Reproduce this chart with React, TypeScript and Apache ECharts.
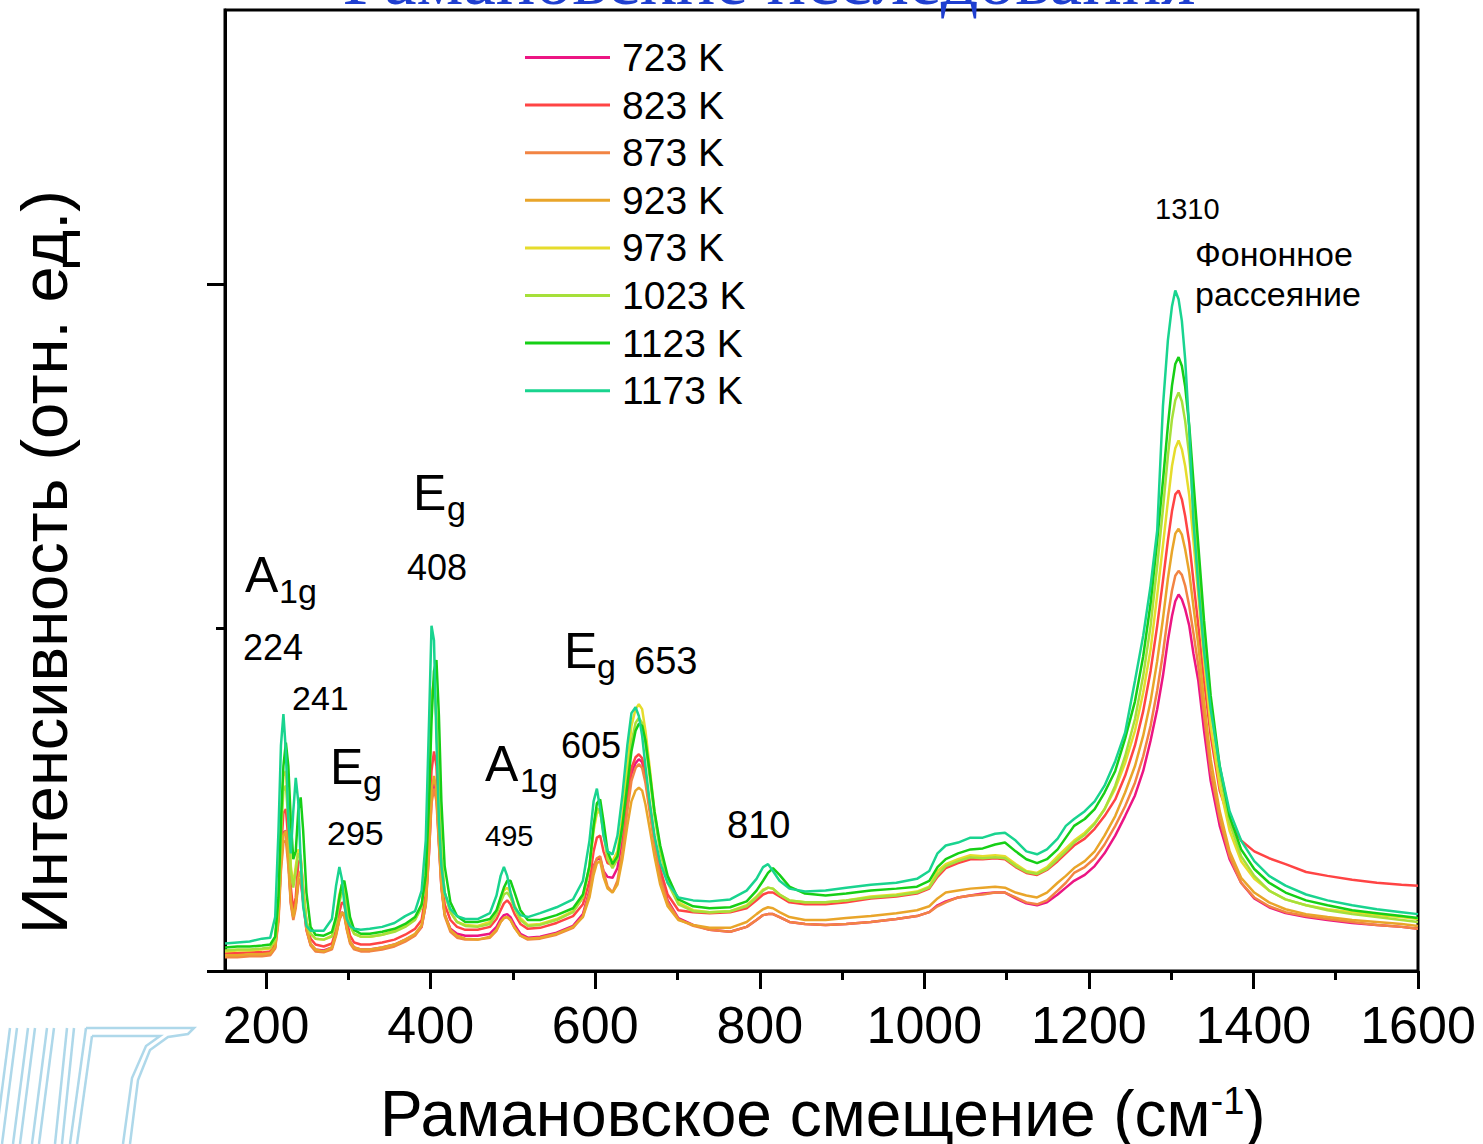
import React, { useEffect, useRef } from "react";
import * as echarts from "echarts";

// Raman shift grid (cm^-1), shared by all spectra
const shift = [
  150, 165, 180, 195, 205, 211, 215, 218, 221, 224, 227, 230, 233, 236, 239, 242, 245, 249, 254, 260, 270, 280, 285, 289, 292, 295, 298, 302, 307,
  315, 326, 341, 356, 369, 381, 389, 394, 398, 401, 404, 407, 410, 413, 417,
  424, 432, 442, 457, 472, 480, 485, 489, 493, 497, 502, 509, 518, 533, 553, 573,
  585, 593, 598, 602, 606, 610, 615, 621, 627, 633, 639, 644, 649, 653, 657, 661, 666, 672, 679, 688, 701, 719, 739, 764,
  784, 796, 804, 810, 816, 824, 836, 855, 880, 905, 935, 966, 991, 1006, 1016, 1026, 1041, 1056, 1071, 1086, 1098, 1111, 1124, 1137, 1149, 1162, 1172,
  1182, 1195, 1207, 1219, 1232, 1244, 1256, 1266, 1275, 1283, 1290, 1296, 1301, 1305, 1309, 1313, 1317, 1322, 1327, 1333, 1340, 1348, 1359, 1371, 1385, 1401, 1419, 1439, 1464, 1490, 1520, 1550, 1580, 1600,
];

// Intensity, arbitrary units
const i723 = [
  15, 15, 16, 16, 17, 24, 55, 112, 141, 143, 114, 70, 55, 68, 90, 93, 70, 42, 27, 22, 21, 24, 38, 53, 60, 58, 44, 30, 24,
  22, 22, 24, 27, 32, 37, 45, 68, 122, 175, 192, 179, 131, 86, 58,
  43, 38, 36, 36, 38, 45, 53, 57, 58, 55, 47, 38, 34, 35, 39, 46,
  58, 82, 107, 114, 115, 102, 96, 95, 105, 135, 173, 201, 212, 216, 213, 197, 168, 133, 100, 72, 54, 47, 42, 40,
  45, 52, 57, 58, 58, 55, 50, 48, 47, 48, 50, 53, 56, 60, 67, 71, 75, 77, 79, 80, 80, 74, 69, 67, 70, 78, 85,
  92, 98, 107, 120, 138, 158, 179, 204, 235, 267, 301, 337, 362, 377, 384, 379, 369, 352, 324, 296, 245, 194, 148, 114, 90, 74, 65, 59, 55, 52, 49, 47, 45, 43,
];
const i823 = [
  18, 18, 19, 19, 20, 28, 60, 122, 161, 165, 133, 85, 62, 75, 110, 115, 85, 50, 33, 27, 25, 28, 42, 60, 70, 68, 52, 36, 29,
  27, 27, 29, 32, 37, 43, 52, 78, 143, 204, 224, 209, 153, 102, 68,
  52, 45, 42, 42, 45, 53, 62, 69, 72, 68, 58, 48, 43, 44, 49, 56,
  68, 92, 122, 136, 138, 122, 110, 108, 114, 143, 179, 207, 218, 221, 217, 201, 171, 136, 104, 78, 62, 60, 59, 60,
  64, 72, 78, 80, 80, 76, 70, 68, 68, 70, 74, 76, 79, 84, 96, 105, 110, 114, 114, 115, 114, 106, 100, 98, 103, 112, 120,
  128, 135, 145, 158, 175, 199, 230, 265, 306, 352, 398, 439, 469, 486, 490, 481, 464, 437, 398, 352, 296, 240, 184, 153, 133, 122, 115, 109, 101, 97, 93, 90, 88, 87,
];
const i873 = [
  14, 14, 15, 15, 16, 23, 50, 102, 131, 133, 107, 68, 52, 64, 88, 95, 72, 42, 26, 20, 19, 22, 36, 52, 58, 56, 42, 28, 22,
  20, 20, 22, 25, 30, 36, 45, 67, 120, 171, 186, 173, 128, 85, 56,
  40, 34, 32, 32, 34, 41, 50, 54, 55, 52, 44, 36, 32, 33, 37, 44,
  56, 80, 105, 115, 117, 102, 86, 80, 92, 122, 163, 194, 207, 211, 207, 192, 163, 129, 95, 70, 53, 46, 42, 40,
  45, 52, 57, 58, 58, 55, 50, 48, 47, 48, 50, 53, 56, 60, 66, 70, 75, 77, 78, 80, 80, 75, 70, 68, 72, 82, 90,
  100, 106, 115, 129, 148, 168, 192, 219, 250, 286, 324, 362, 388, 403, 408, 404, 393, 372, 345, 311, 260, 204, 155, 117, 90, 75, 66, 60, 56, 53, 50, 47, 45, 43,
];
const i923 = [
  16, 16, 17, 17, 18, 25, 55, 107, 138, 143, 114, 72, 55, 68, 95, 102, 75, 45, 28, 22, 20, 24, 38, 53, 60, 58, 44, 30, 24,
  22, 22, 24, 27, 32, 38, 47, 70, 128, 184, 199, 184, 133, 88, 58,
  42, 36, 33, 32, 35, 42, 50, 54, 55, 52, 44, 36, 33, 34, 38, 45,
  55, 75, 98, 110, 112, 96, 84, 80, 88, 114, 148, 173, 184, 187, 184, 170, 146, 117, 88, 66, 52, 47, 44, 44,
  50, 58, 63, 65, 64, 60, 55, 52, 52, 54, 56, 59, 62, 66, 74, 80, 82, 84, 85, 86, 85, 80, 77, 75, 80, 90, 97,
  105, 112, 122, 138, 158, 182, 209, 240, 275, 316, 359, 400, 428, 446, 451, 445, 430, 406, 372, 332, 275, 216, 163, 122, 95, 80, 70, 63, 58, 55, 52, 50, 48, 46,
];
const i973 = [
  20, 21, 21, 22, 23, 32, 75, 153, 199, 204, 163, 107, 88, 107, 124, 117, 80, 50, 38, 33, 32, 36, 55, 78, 88, 84, 65, 47, 38,
  35, 35, 37, 41, 46, 53, 66, 104, 199, 281, 296, 257, 179, 117, 80,
  60, 50, 47, 46, 50, 60, 74, 82, 85, 80, 67, 54, 47, 48, 53, 61,
  75, 105, 143, 161, 163, 143, 117, 112, 122, 158, 209, 250, 267, 272, 267, 245, 209, 163, 124, 92, 70, 62, 60, 61,
  67, 76, 83, 85, 84, 78, 72, 70, 70, 72, 76, 78, 81, 86, 102, 109, 114, 118, 117, 118, 117, 109, 102, 100, 106, 117, 125,
  133, 141, 151, 165, 186, 212, 245, 284, 328, 383, 434, 479, 515, 533, 541, 532, 515, 485, 439, 383, 316, 250, 189, 143, 112, 94, 82, 73, 67, 63, 60, 57, 55, 53,
];
const i1023 = [
  21, 22, 22, 23, 24, 32, 70, 138, 184, 189, 153, 102, 85, 102, 120, 114, 80, 50, 38, 33, 32, 35, 50, 70, 80, 78, 62, 46, 38,
  35, 35, 37, 40, 45, 52, 65, 102, 194, 275, 294, 255, 179, 117, 80,
  60, 50, 46, 45, 48, 58, 70, 78, 80, 75, 64, 52, 46, 47, 52, 60,
  75, 107, 148, 166, 163, 141, 114, 105, 114, 148, 194, 233, 253, 258, 253, 233, 199, 158, 122, 90, 68, 61, 60, 61,
  66, 75, 82, 85, 84, 78, 72, 70, 70, 72, 75, 77, 80, 85, 98, 107, 112, 116, 115, 116, 115, 107, 101, 99, 104, 114, 122,
  131, 139, 150, 165, 189, 219, 257, 301, 352, 413, 471, 525, 563, 582, 590, 581, 561, 525, 474, 413, 342, 270, 202, 151, 117, 97, 82, 73, 67, 62, 58, 55, 52, 50,
];
const i1123 = [
  24, 25, 25, 26, 27, 35, 75, 153, 209, 233, 209, 153, 114, 122, 163, 177, 143, 80, 45, 37, 36, 40, 55, 75, 88, 92, 78, 55, 42,
  38, 38, 40, 43, 48, 55, 68, 97, 173, 255, 306, 317, 260, 173, 107,
  70, 56, 50, 50, 53, 62, 75, 85, 92, 92, 80, 62, 52, 52, 57, 64,
  78, 107, 148, 171, 175, 153, 122, 109, 117, 148, 189, 224, 245, 252, 250, 235, 204, 163, 128, 97, 73, 66, 64, 65,
  71, 82, 92, 100, 105, 98, 86, 79, 77, 79, 82, 84, 86, 92, 106, 114, 120, 124, 125, 129, 131, 122, 114, 110, 114, 124, 136,
  148, 155, 165, 182, 204, 237, 275, 321, 375, 439, 500, 556, 597, 619, 626, 617, 596, 556, 500, 434, 357, 281, 209, 158, 124, 104, 90, 80, 72, 67, 62, 59, 56, 54,
];
const i1173 = [
  28, 29, 30, 33, 34, 55, 143, 230, 262, 224, 153, 120, 163, 197, 173, 112, 66, 46, 41, 41, 41, 53, 87, 106, 94, 69, 53, 46, 43,
  42, 43, 45, 49, 56, 61, 82, 133, 255, 352, 337, 235, 153, 107, 80,
  63, 56, 53, 53, 59, 77, 97, 106, 97, 80, 65, 57, 55, 59, 65, 73,
  92, 133, 173, 186, 165, 138, 122, 119, 138, 179, 230, 263, 269, 260, 240, 209, 173, 138, 110, 90, 75, 72, 71, 73,
  82, 94, 106, 109, 102, 92, 84, 81, 82, 85, 88, 90, 94, 102, 120, 128, 131, 136, 136, 140, 141, 133, 122, 119, 124, 135, 148,
  155, 163, 173, 189, 214, 243, 296, 342, 393, 449, 576, 643, 678, 694, 685, 663, 624, 551, 459, 393, 326, 267, 209, 163, 133, 112, 97, 87, 78, 72, 67, 63, 60, 58,
];

const temperatures = ["723 K", "823 K", "873 K", "923 K", "973 K", "1023 K", "1123 K", "1173 K"];
const spectra = [i723, i823, i873, i923, i973, i1023, i1123, i1173];
const lineColors = ["#ec1583", "#ff4444", "#f28443", "#e9a52a", "#e6dc2c", "#a6e03a", "#16cf16", "#19d48f"];

const majorShiftTicks = [200, 400, 600, 800, 1000, 1200, 1400, 1600];
const minorShiftTicks = [300, 500, 700, 900, 1100, 1300, 1500];
const majorIntensityTicks = [0, 700];
const minorIntensityTicks = [350];

const SANS = "Liberation Sans";

type Note = { text: string; x: number; y: number; size: number };
const notes: Note[] = [
  { text: "A", x: 245, y: 575, size: 50 },
  { text: "1g", x: 279, y: 591, size: 34 },
  { text: "224", x: 243, y: 647, size: 36 },
  { text: "241", x: 292, y: 698, size: 34 },
  { text: "E", x: 330, y: 767, size: 50 },
  { text: "g", x: 363, y: 782, size: 34 },
  { text: "295", x: 327, y: 833, size: 34 },
  { text: "E", x: 413, y: 493, size: 50 },
  { text: "g", x: 447, y: 508, size: 34 },
  { text: "408", x: 407, y: 567, size: 36 },
  { text: "A", x: 485, y: 764, size: 50 },
  { text: "1g", x: 520, y: 780, size: 34 },
  { text: "495", x: 485, y: 836, size: 29 },
  { text: "605", x: 561, y: 745, size: 36 },
  { text: "E", x: 564, y: 651, size: 50 },
  { text: "g", x: 597, y: 666, size: 34 },
  { text: "653", x: 634, y: 661, size: 38 },
  { text: "810", x: 727, y: 825, size: 38 },
  { text: "1310", x: 1155, y: 209, size: 29 },
  { text: "Фононное", x: 1195, y: 254, size: 34 },
  { text: "рассеяние", x: 1195, y: 294, size: 34 },
];

// faint emblem in the lower-left corner
const emblemLines: number[][][] = [
  [[10, 1028], [-5, 1144]], [[17, 1028], [2, 1144]],
  [[28, 1028], [13, 1144]], [[35, 1028], [20, 1144]],
  [[47, 1028], [32, 1144]], [[54, 1028], [39, 1144]],
  [[67, 1028], [55, 1144]], [[74, 1028], [62, 1144]],
  [[86, 1028], [194, 1028], [188, 1034], [168, 1037], [150, 1050], [138, 1080], [130, 1144]],
  [[92, 1036], [160, 1036], [146, 1046], [132, 1078], [123, 1144]],
  [[86, 1028], [70, 1144]], [[92, 1036], [77, 1144]],
];

export default function App() {
  const ref = useRef<HTMLDivElement>(null);

  useEffect(() => {
    const chart = echarts.init(ref.current!, null, { renderer: "svg" });

    const series = spectra.map((vals, k) => ({
      name: temperatures[k],
      type: "line",
      data: shift.map((x, i) => [x, vals[i]]),
      symbol: "none",
      showSymbol: false,
      xAxisIndex: 0,
      yAxisIndex: 0,
      lineStyle: { width: 2.5, color: lineColors[k] },
      itemStyle: { color: lineColors[k] },
      z: 2 + k,
    }));

    const graphics: any[] = [
      {
        type: "text",
        x: 769,
        y: 16,
        style: {
          text: "Рамановские исследования",
          font: `74px "Liberation Serif"`,
          fill: "#1f3fd0",
          align: "center",
          verticalAlign: "bottom",
        },
        z: 0,
      },
      {
        type: "text",
        x: 44,
        y: 562,
        rotation: Math.PI / 2,
        style: {
          text: "Интенсивность (отн. ед.)",
          font: `65px "${SANS}"`,
          fill: "#000",
          align: "center",
          verticalAlign: "middle",
        },
      },
      {
        type: "text",
        x: 380,
        y: 1114,
        style: {
          rich: {
            m: { fontSize: 64, fontFamily: SANS, fill: "#000", verticalAlign: "bottom" },
            s: { fontSize: 38, fontFamily: SANS, fill: "#000", verticalAlign: "top" },
          },
          text: "{m|Рамановское смещение (см}{s|-1}{m|)}",
          align: "left",
          verticalAlign: "middle",
        },
      },
      ...notes.map((n) => ({
        type: "text",
        x: n.x,
        y: n.y,
        z: 20,
        style: {
          text: n.text,
          font: `${n.size}px "${SANS}"`,
          fill: "#000",
          align: "left",
          verticalAlign: "middle",
        },
      })),
      ...emblemLines.map((pts) => ({
        type: "polyline",
        shape: { points: pts },
        style: { stroke: "#aed8ea", lineWidth: 2.5, fill: null },
        z: 0,
      })),
    ];

    chart.setOption({
      animation: false,
      backgroundColor: "#ffffff",
      grid: {
        left: 225,
        right: 65,
        top: 10,
        bottom: 173,
        show: true,
        borderColor: "#000",
        borderWidth: 3,
        backgroundColor: "transparent",
        containLabel: false,
      },
      legend: {
        orient: "vertical",
        left: 520,
        top: 33,
        icon: "rect",
        itemWidth: 85,
        itemHeight: 3,
        itemGap: 8.6,
        data: temperatures,
        textStyle: {
          fontFamily: SANS,
          fontSize: 39,
          lineHeight: 38,
          color: "#000",
          padding: [0, 0, 0, 7],
        },
      },
      xAxis: [
        {
          type: "value",
          min: 150,
          max: 1600,
          position: "bottom",
          axisLine: { show: true, onZero: false, lineStyle: { color: "#000", width: 3 } },
          axisTick: { show: true, customValues: majorShiftTicks, length: 18, lineStyle: { color: "#000", width: 3 } },
          axisLabel: {
            show: true,
            customValues: majorShiftTicks,
            formatter: (v: number) => String(v),
            fontFamily: SANS,
            fontSize: 52,
            color: "#000",
            margin: 28,
          },
          splitLine: { show: false },
        },
        {
          type: "value",
          min: 150,
          max: 1600,
          position: "bottom",
          axisLine: { show: false },
          axisTick: { show: true, customValues: minorShiftTicks, length: 9, lineStyle: { color: "#000", width: 3 } },
          axisLabel: { show: false },
          splitLine: { show: false },
        },
      ],
      yAxis: [
        {
          type: "value",
          min: 0,
          max: 980,
          position: "left",
          axisLine: { show: true, onZero: false, lineStyle: { color: "#000", width: 3 } },
          axisTick: { show: true, customValues: majorIntensityTicks, length: 18, lineStyle: { color: "#000", width: 3 } },
          axisLabel: { show: false },
          splitLine: { show: false },
        },
        {
          type: "value",
          min: 0,
          max: 980,
          position: "left",
          axisLine: { show: false },
          axisTick: { show: true, customValues: minorIntensityTicks, length: 9, lineStyle: { color: "#000", width: 3 } },
          axisLabel: { show: false },
          splitLine: { show: false },
        },
      ],
      series,
      graphic: graphics,
    });

    return () => chart.dispose();
  }, []);

  return (
    <div
      ref={ref}
      style={{ position: "absolute", left: 0, top: 0, width: 1483, height: 1144, background: "#fff" }}
    />
  );
}
